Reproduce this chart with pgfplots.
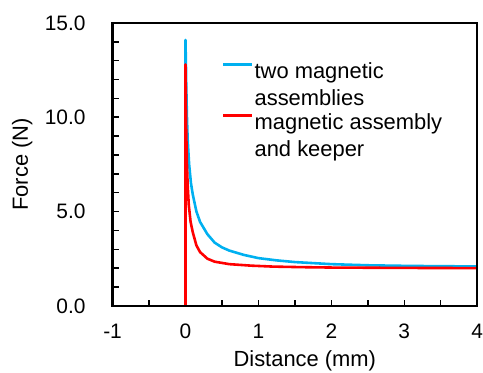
\documentclass[border=0pt]{standalone}
\usepackage{fontspec}
\setmainfont{Liberation Sans}
\usepackage{pgfplots}
\pgfplotsset{compat=1.18}
\usepackage{pgfplotstable}
\definecolor{cblue}{RGB}{0,176,240}
\definecolor{cred}{RGB}{255,0,0}
\definecolor{cblack}{RGB}{0,0,0}
\pgfplotstableread{
x y
0 0
0 14.1
0.005 13.0
0.01 11.8
0.02 10.0
0.03 8.8
0.05 7.5
0.075 6.5
0.1 5.9
0.15 5.0
0.2 4.45
0.3 3.8
0.4 3.35
0.5 3.1
0.6 2.93
0.8 2.7
1.0 2.53
1.25 2.41
1.5 2.32
2.0 2.21
2.5 2.15
3.0 2.12
3.5 2.10
4.0 2.09
}\bluedata
\pgfplotstableread{
x y
0 0
0 12.8
0.005 10.8
0.01 9.3
0.02 7.5
0.03 6.4
0.045 5.35
0.07 4.45
0.1 3.9
0.15 3.2
0.2 2.85
0.3 2.5
0.4 2.34
0.6 2.21
0.9 2.13
1.2 2.08
1.6 2.05
2.0 2.03
3.0 2.01
4.0 2.0
}\reddata
\begin{document}
\begin{tikzpicture}
\begin{axis}[
  scale only axis,
  width=366pt, height=284pt,
  at={(0pt,0pt)}, anchor=south west,
  xmin=-1, xmax=4, ymin=0, ymax=15,
  xtick={-1,0,1,2,3,4},
  xticklabels={-1,0,1,2,3,4},
  ytick={0,5,10,15},
  yticklabels={0.0,5.0,10.0,15.0},
  minor x tick num=1,
  minor y tick num=4,
  tick align=inside,
  tick pos=left,
  major tick length=6pt,
  minor tick length=6pt,
  every tick/.style={cblack, line width=1.5pt},
  axis line style={cblack, line width=2.6pt},
  tick label style={font=\fontsize{21}{25}\selectfont},
  yticklabel style={inner sep=0pt, anchor=east, xshift=-27pt},
  xticklabel style={inner sep=0pt, anchor=north, yshift=-18pt},
  xlabel={Distance (mm)},
  ylabel={Force (N)},
  label style={font=\fontsize{22}{27}\selectfont},
  xlabel style={at={([xshift=10pt,yshift=-61pt]axis description cs:0.5,0)}, anchor=base, inner sep=0pt},
  ylabel style={at={([xshift=-85pt]axis description cs:0,0.5)}, anchor=base, inner sep=0pt},
  legend style={at={([xshift=110pt,yshift=-37pt]rel axis cs:0,1)}, anchor=north west,
    draw=none, fill=none, inner sep=0pt, outer sep=0pt,
    font=\fontsize{22}{27}\selectfont, row sep=31pt, column sep=1pt,
    nodes={inner sep=0pt, outer sep=0pt}},
  legend cell align=left,
  legend image code/.code={\draw[#1] (0pt,5.5pt) -- (29pt,5.5pt);},
]
\addplot[cblue, line width=2.6pt, line join=round, no markers] table[x=x,y=y] {\bluedata};
\addlegendentry{\begin{tabular}[t]{@{}l@{}}two magnetic\\assemblies\end{tabular}}
\addplot[cred, line width=2.6pt, line join=round, no markers] table[x=x,y=y] {\reddata};
\addlegendentry{\begin{tabular}[t]{@{}l@{}}magnetic assembly\\and keeper\end{tabular}}
\end{axis}
\draw[cblack, line width=2.6pt, line cap=rect] (0pt,284pt) -- (366pt,284pt);
\draw[cblack, line width=2.6pt, line cap=rect] (366pt,0pt) -- (366pt,284pt);
\draw[cblack, line width=2.6pt, line cap=rect] (0pt,0pt) -- (0pt,284pt);
\draw[cblack, line width=2.6pt, line cap=rect] (0pt,0pt) -- (366pt,0pt);
\path (-113pt,-67pt) (370pt,307pt);
\end{tikzpicture}
\end{document}
